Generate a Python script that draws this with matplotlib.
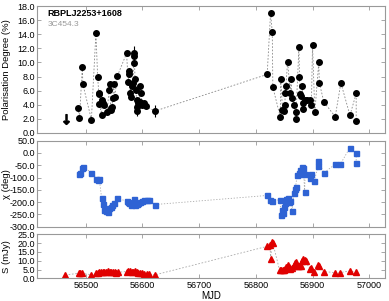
import matplotlib
matplotlib.use("Agg")
import matplotlib.pyplot as plt
import numpy as np

plt.rcParams['font.family'] = ['Liberation Sans', 'DejaVu Sans']
plt.rcParams['font.size'] = 7

# polarisation degree (%)
pd_mjd = [56487, 56489, 56494, 56495, 56510, 56518, 56521, 56523, 56524, 56524,
          56528, 56529, 56530, 56533, 56538, 56541, 56542, 56544, 56545, 56546,
          56548, 56549, 56551, 56556, 56572, 56575, 56576, 56577, 56578, 56580,
          56582, 56584, 56585, 56585, 56586, 56587, 56588, 56590, 56591, 56591,
          56593, 56595, 56596, 56598, 56599, 56602, 56606, 56622,
          56820, 56826, 56829, 56830, 56843, 56844, 56847, 56849, 56851, 56852,
          56853, 56856, 56861, 56862, 56864, 56868, 56870, 56871, 56876, 56877,
          56878, 56880, 56882, 56883, 56884, 56886, 56891, 56895, 56898, 56900,
          56904, 56911, 56912, 56920, 56940, 56950, 56966, 56977, 56977]
pd_val = [3.5, 2.1, 9.3, 6.9, 1.9, 14.2, 8.0, 5.7, 5.5, 4.1,
          2.5, 4.7, 4.2, 4.0, 3.0, 6.1, 7.0, 3.5, 3.3, 3.7,
          5.0, 6.9, 5.1, 8.1, 11.3, 7.2, 8.8, 8.3, 5.7, 5.1,
          6.6, 7.1, 11.3, 10.9, 9.9, 7.6, 6.1, 4.7, 3.7, 3.1,
          4.2, 4.4, 6.6, 5.7, 3.9, 4.2, 3.8, 3.1,
          8.3, 17.0, 14.3, 6.5, 2.3, 7.7, 3.3, 3.1, 3.9, 5.6,
          6.6, 10.1, 5.7, 7.7, 4.9, 3.9, 2.0, 2.9, 12.2, 8.0,
          5.5, 5.2, 6.6, 3.4, 4.2, 4.7, 4.7, 4.7, 4.0, 12.5,
          2.9, 10.0, 7.1, 4.4, 2.3, 7.1, 2.5, 5.6, 1.7]
pd_err = [0.3, 0.3, 0.4, 0.3, 0.3, 0.4, 0.3, 0.3, 0.3, 0.4,
          0.3, 0.4, 0.4, 0.3, 0.5, 0.4, 0.3, 0.4, 0.3, 0.4,
          0.3, 0.3, 0.4, 0.3, 0.3, 0.4, 0.4, 0.3, 0.5, 0.3,
          0.3, 0.4, 1.0, 0.5, 0.4, 0.4, 0.5, 0.4, 0.6, 0.7,
          0.4, 0.4, 0.3, 0.3, 0.4, 0.3, 0.3, 0.8,
          0.3, 0.4, 0.3, 0.3, 0.3, 0.3, 0.3, 0.3, 0.3, 0.3,
          0.3, 0.3, 0.3, 0.3, 0.3, 0.3, 0.3, 0.3, 0.3, 0.3,
          0.3, 0.3, 0.3, 0.3, 0.3, 0.3, 0.3, 0.3, 0.3, 0.3,
          0.3, 0.3, 0.3, 0.3, 0.3, 0.3, 0.3, 0.3, 0.3]
ul_mjd = [56465]
ul_val = [2.0]

# polarisation angle (deg)
chi_mjd = [56488, 56490, 56494, 56496, 56510, 56519, 56521, 56524, 56528, 56530,
           56532, 56536, 56539, 56541, 56545, 56547, 56550, 56556, 56572, 56575,
           56577, 56580, 56583, 56585, 56587, 56590, 56593, 56596, 56599, 56603,
           56608, 56612, 56622,
           56820, 56825, 56829, 56842, 56845, 56846, 56848, 56849, 56851, 56853,
           56856, 56858, 56861, 56864, 56867, 56869, 56870, 56873, 56876, 56878,
           56880, 56882, 56884, 56886, 56887, 56895, 56898, 56903, 56910, 56910,
           56920, 56940, 56949, 56966, 56977, 56977]
chi_val = [-87, -80, -63, -56, -81, -105, -109, -108, -183, -208,
           -232, -236, -239, -225, -218, -211, -204, -183, -197, -200,
           -205, -210, -208, -186, -212, -207, -205, -200, -195, -193,
           -192, -193, -210,
           -173, -190, -197, -190, -253, -232, -243, -218, -204, -187,
           -183, -201, -197, -235, -164, -147, -138, -91, -80, -70,
           -84, -59, -60, -158, -87, -101, -87, -115, -52, -32,
           -81, -46, -46, 22, -2, -42]
chi_err = [5] * len(chi_val)

# flux density (mJy)
s_mjd = [56464, 56488, 56490, 56493, 56510, 56519, 56522, 56524, 56527, 56530,
         56533, 56536, 56539, 56542, 56545, 56548, 56551, 56554, 56557, 56572,
         56575, 56578, 56581, 56584, 56587, 56590, 56593, 56596, 56599, 56602,
         56608, 56611, 56622,
         56820, 56825, 56826, 56829, 56830, 56842, 56845, 56848, 56850, 56852,
         56854, 56856, 56859, 56861, 56864, 56867, 56869, 56871, 56874, 56877,
         56880, 56882, 56884, 56886, 56888, 56895, 56898, 56903, 56910, 56912,
         56920, 56940, 56949, 56966, 56977]
s_val = [2.0, 2.9, 3.3, 2.9, 2.1, 2.9, 3.3, 3.5, 3.7, 3.5,
         3.9, 3.7, 4.1, 3.9, 3.7, 3.7, 3.5, 3.3, 3.5, 3.9,
         4.1, 4.1, 3.9, 3.7, 4.1, 3.7, 3.3, 2.9, 2.9, 2.7,
         2.5, 2.3, 2.0,
         18.2, 19.0, 11.3, 20.9, 20.1, 4.5, 4.5, 4.9, 4.5, 5.3,
         6.3, 7.8, 6.3, 5.3, 5.9, 6.8, 8.8, 9.4, 7.2, 6.8,
         7.2, 9.8, 11.1, 10.4, 9.8, 5.3, 5.9, 3.9, 7.8, 6.8,
         3.9, 3.3, 3.3, 4.3, 3.5]

fig, axes = plt.subplots(3, 1, figsize=(3.89, 3.01), dpi=100, sharex=True,
                         gridspec_kw={'height_ratios': [121, 82, 42]})
fig.subplots_adjust(left=0.095, right=0.99, top=0.98, bottom=0.075, hspace=0.09)

for ax in axes:
    for sp in ax.spines.values():
        sp.set_color('#999999')
    ax.tick_params(direction='in', top=True, right=True, color='#999999',
                   length=3, width=0.6, labelsize=6.5, pad=1.5)
    ax.set_xlim(56414, 57028)

ax = axes[0]
ax.plot(pd_mjd, pd_val, ls=(0, (2, 2)), color='#888888', lw=0.6)
ax.errorbar(pd_mjd, pd_val, yerr=pd_err, fmt='o', color='black', ms=4,
            elinewidth=0.8, capsize=0)
ax.plot(ul_mjd, ul_val, marker=r'$\downarrow$', color='black', ms=7, ls='none')
ax.set_ylim(0, 18)
ax.set_yticks(np.arange(0, 18.1, 2))
ax.set_yticklabels([f"{v:.1f}" for v in np.arange(0, 18.1, 2)])
ax.set_ylabel("Polarisation Degree (%)", fontsize=6.8)
ax.text(0.03, 0.92, "RBPLJ2253+1608", transform=ax.transAxes, fontsize=6.5,
        fontweight='bold', color='black')
ax.text(0.03, 0.845, "3C454.3", transform=ax.transAxes, fontsize=6,
        color='#999999')

ax = axes[1]
ax.plot(chi_mjd, chi_val, ls=(0, (1.5, 2)), color='#aaaaaa', lw=0.6)
ax.errorbar(chi_mjd, chi_val, yerr=chi_err, fmt='s', color='#2f63d4', ms=3.6,
            elinewidth=0.6, capsize=0)
ax.set_ylim(-300, 50)
ax.set_yticks(np.arange(-300, 51, 50))
ax.set_yticklabels([f"{v:.1f}" for v in np.arange(-300, 51, 50)])
ax.set_ylabel("χ (deg)", fontsize=6.8)

ax = axes[2]
ax.plot(s_mjd, s_val, ls=(0, (2, 2)), color='#aaaaaa', lw=0.6)
ax.plot(s_mjd, s_val, '^', color='#e00000', ms=4.2, ls='none')
ax.set_ylim(0, 25)
ax.set_yticks(np.arange(0, 25.1, 5))
ax.set_yticklabels([f"{v:.1f}" for v in np.arange(0, 25.1, 5)])
ax.set_ylabel("S (mJy)", fontsize=6.8)
ax.set_xticks([56500, 56600, 56700, 56800, 56900, 57000])
ax.set_xlabel("MJD", fontsize=7, labelpad=1)

for ax in axes:
    ax.yaxis.set_label_coords(-0.075, 0.5)

fig.savefig("out.png", dpi=100)
